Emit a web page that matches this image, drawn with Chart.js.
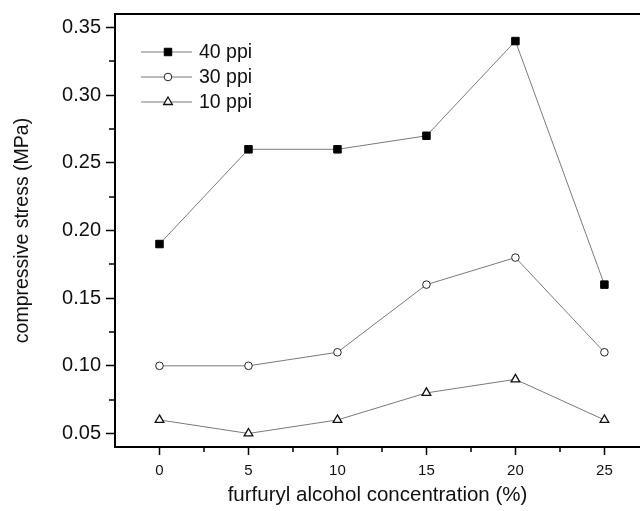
<!DOCTYPE html>
<html>
<head>
<meta charset="utf-8">
<script src="https://cdn.jsdelivr.net/npm/chart.js@4/dist/chart.umd.min.js"></script>
<style>
  html, body { margin: 0; padding: 0; background: #fff; overflow: hidden; }
  #wrap { width: 640px; height: 511px; }
</style>
</head>
<body>
<div id="wrap"><canvas id="c" width="640" height="511"></canvas></div>
<script>
// ---- data ----
const concentrations = [0, 5, 10, 15, 20, 25];
const stress40ppi = [0.19, 0.26, 0.26, 0.27, 0.34, 0.16];
const stress30ppi = [0.10, 0.10, 0.11, 0.16, 0.18, 0.11];
const stress10ppi = [0.06, 0.05, 0.06, 0.08, 0.09, 0.06];
const seriesLabels = ['40 ppi', '30 ppi', '10 ppi'];
const xTickValues = [0, 5, 10, 15, 20, 25];
const xMinorTickValues = [2.5, 7.5, 12.5, 17.5, 22.5];
const yTickValues = [0.05, 0.10, 0.15, 0.20, 0.25, 0.30, 0.35];
const yMinorTickValues = [0.075, 0.125, 0.175, 0.225, 0.275, 0.325];
const xTitle = 'furfuryl alcohol concentration (%)';
const yTitle = 'compressive stress (MPa)';

const FONT = '"Liberation Sans", Arial, Helvetica, sans-serif';
const LINE_COLOR = '#7a7a7a';

function pts(ys) { return concentrations.map((x, i) => ({ x: x, y: ys[i] })); }

const minorTicks = {
  id: 'minorTicks',
  afterDraw(chart) {
    const ctx = chart.ctx;
    const xs = chart.scales.x, ys = chart.scales.y;
    const area = chart.chartArea;
    ctx.save();
    ctx.strokeStyle = '#000';
    ctx.lineWidth = 1.5;
    ctx.beginPath();
    xMinorTickValues.forEach(v => {
      const px = Math.round(xs.getPixelForValue(v));
      ctx.moveTo(px, area.bottom);
      ctx.lineTo(px, area.bottom + 5);
    });
    yMinorTickValues.forEach(v => {
      const py = Math.round(ys.getPixelForValue(v));
      ctx.moveTo(area.left, py);
      ctx.lineTo(area.left - 6, py);
    });
    ctx.stroke();
    // top frame line
    ctx.lineWidth = 2;
    ctx.beginPath();
    ctx.moveTo(area.left - 1, area.top);
    ctx.lineTo(area.right, area.top);
    ctx.stroke();
    ctx.restore();
  }
};

const insideLegend = {
  id: 'insideLegend',
  afterDraw(chart) {
    const ctx = chart.ctx;
    const area = chart.chartArea;
    ctx.save();
    chart.data.datasets.forEach((ds, i) => {
      const y = area.top + 38 + i * 25;
      const x0 = area.left + 26, x1 = area.left + 77, xm = area.left + 53;
      ctx.strokeStyle = LINE_COLOR;
      ctx.lineWidth = 1;
      ctx.beginPath();
      ctx.moveTo(x0, y); ctx.lineTo(x1, y);
      ctx.stroke();
      ctx.fillStyle = ds.pointBackgroundColor;
      ctx.strokeStyle = ds.pointBorderColor;
      ctx.lineWidth = ds.pointBorderWidth;
      Chart.helpers.drawPoint(ctx, { pointStyle: ds.pointStyle, radius: ds.pointRadius, borderWidth: ds.pointBorderWidth, rotation: 0 }, xm, y);
      ctx.fillStyle = '#111';
      ctx.font = '19.5px ' + FONT;
      ctx.textBaseline = 'middle';
      ctx.textAlign = 'left';
      ctx.fillText(ds.label, area.left + 84, y + 1);
    });
    ctx.restore();
  }
};

new Chart(document.getElementById('c'), {
  type: 'line',
  data: {
    datasets: [
      { label: seriesLabels[0], data: pts(stress40ppi), borderColor: LINE_COLOR, borderWidth: 1,
        pointStyle: 'rect', pointRadius: 5.3, pointBorderWidth: 1,
        pointBackgroundColor: '#000', pointBorderColor: '#000' },
      { label: seriesLabels[1], data: pts(stress30ppi), borderColor: LINE_COLOR, borderWidth: 1,
        pointStyle: 'circle', pointRadius: 3.8, pointBorderWidth: 1,
        pointBackgroundColor: '#fff', pointBorderColor: '#222' },
      { label: seriesLabels[2], data: pts(stress10ppi), borderColor: LINE_COLOR, borderWidth: 1,
        pointStyle: 'triangle', pointRadius: 5, pointBorderWidth: 1.3,
        pointBackgroundColor: '#fff', pointBorderColor: '#111' }
    ]
  },
  options: {
    responsive: false,
    animation: false,
    layout: { autoPadding: false, padding: { top: 14, right: 0, left: 0, bottom: 0 } },
    plugins: { legend: { display: false }, tooltip: { enabled: false } },
    elements: { line: { tension: 0 } },
    scales: {
      x: {
        type: 'linear',
        min: -2.5, max: 27,
        afterBuildTicks(s) { s.ticks = xTickValues.map(v => ({ value: v })); },
        afterFit(s) { s.height = 64; s.paddingRight = 0; s.paddingLeft = 0; },
        ticks: { color: '#111', font: { family: FONT, size: 15 }, padding: 7, maxRotation: 0,
                 callback: v => String(v) },
        grid: { drawOnChartArea: false, drawTicks: true, tickLength: 8, tickColor: '#000', tickWidth: 1.5 },
        border: { display: true, color: '#000', width: 2 },
        title: { display: true, text: xTitle, color: '#111', font: { family: FONT, size: 20.5 },
                 padding: { top: 0, bottom: 3 } }
      },
      y: {
        type: 'linear',
        min: 0.04, max: 0.36,
        afterBuildTicks(s) { s.ticks = yTickValues.map(v => ({ value: v })); },
        afterFit(s) { s.width = 115; s.paddingTop = 0; s.paddingBottom = 0; },
        ticks: { color: '#111', font: { family: FONT, size: 20 }, padding: 5,
                 callback: v => Number(v).toFixed(2) },
        grid: { drawOnChartArea: false, drawTicks: true, tickLength: 9, tickColor: '#000', tickWidth: 1.5 },
        border: { display: true, color: '#000', width: 2 },
        title: { display: true, text: yTitle, color: '#111', font: { family: FONT, size: 19.5 },
                 padding: { top: 11, bottom: 0 } }
      }
    }
  },
  plugins: [minorTicks, insideLegend]
});
</script>
</body>
</html>
